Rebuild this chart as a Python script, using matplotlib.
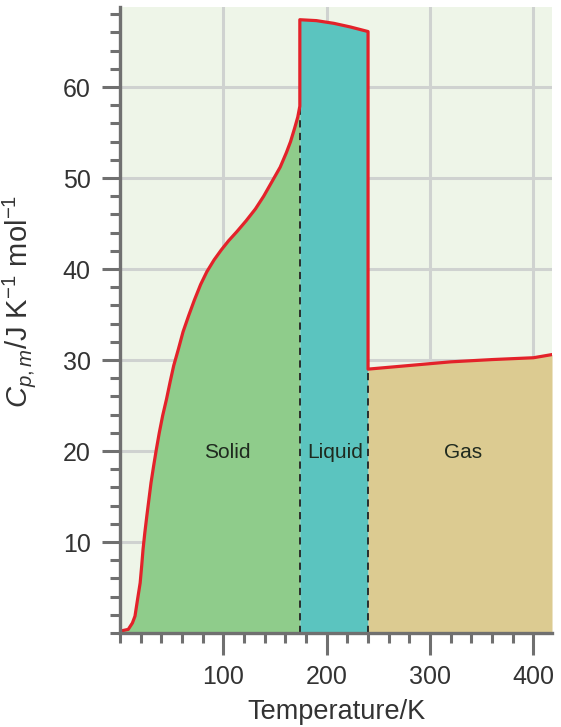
import matplotlib
matplotlib.use("Agg")
import matplotlib.pyplot as plt
from matplotlib.ticker import MultipleLocator, FixedLocator

plt.rcParams['font.family'] = ['Liberation Sans', 'DejaVu Sans']
plt.rcParams['mathtext.fontset'] = 'custom'
plt.rcParams['mathtext.rm'] = 'Liberation Sans'
plt.rcParams['mathtext.it'] = 'Liberation Sans:italic'

# heat capacity, T in K, Cp in J/K/mol
solid_T = [0, 8, 12, 14.5, 17, 19.5, 21, 22.3, 24, 26, 28, 30, 32.6, 35.2, 38, 41.3, 45, 48.5,
           52, 56.5, 61, 66.5, 72, 78, 84, 91, 98, 105, 113, 122, 131, 139, 147, 155, 161, 165,
           169, 172, 174]
solid_Cp = [0.2, 0.4, 1.1, 1.85, 3.7, 5.5, 7.4, 9.2, 11.0, 12.9, 14.7, 16.5, 18.4, 20.2, 22.0,
            23.9, 25.7, 27.6, 29.4, 31.2, 33.1, 34.9, 36.6, 38.3, 39.7, 41.0, 42.1, 43.1, 44.1,
            45.3, 46.6, 48.0, 49.6, 51.2, 52.8, 54.0, 55.5, 56.7, 57.9]
liquid_T = [174, 190, 207, 223, 240]
liquid_Cp = [67.4, 67.3, 67.0, 66.6, 66.1]
gas_T = [240, 280, 320, 360, 400, 418]
gas_Cp = [29.0, 29.4, 29.8, 30.05, 30.25, 30.6]
phase_names = ['Solid', 'Liquid', 'Gas']
phase_label_T = [104, 208, 332]
T_ticks = [100, 200, 300, 400]
Cp_ticks = [10, 20, 30, 40, 50, 60]

fig = plt.figure(figsize=(5.61, 7.27), dpi=100)
ax = fig.add_axes([0.2139, 0.1293, 0.7701, 0.8611])
ax.set_facecolor('#eef5e8')

ax.fill_between(solid_T, solid_Cp, 0, color='#8fcc8b', lw=0, zorder=2)
ax.fill_between(liquid_T, liquid_Cp, 0, color='#5bc4bf', lw=0, zorder=2)
ax.fill_between(gas_T, gas_Cp, 0, color='#dccb91', lw=0, zorder=2)

# phase boundaries
ax.plot([solid_T[-1]] * 2, [0, solid_Cp[-1]], color='#222222', ls=(0, (4, 3)), lw=1.3, zorder=3)
ax.plot([gas_T[0]] * 2, [0, gas_Cp[0]], color='#222222', ls=(0, (4, 3)), lw=1.3, zorder=3)

curve_T = solid_T + liquid_T + gas_T
curve_Cp = solid_Cp + liquid_Cp + gas_Cp
ax.plot(curve_T, curve_Cp, color='#e3222a', lw=2.3, zorder=4, solid_joinstyle='round')

for name, t in zip(phase_names, phase_label_T):
    ax.text(t, 19.8, name, ha='center', va='center', fontsize=15, color='#1f2a1f', zorder=5)

ax.set_xlim(0, 418)
ax.set_ylim(0, 68.8)
ax.xaxis.set_major_locator(FixedLocator(T_ticks))
ax.yaxis.set_major_locator(FixedLocator(Cp_ticks))
ax.xaxis.set_minor_locator(MultipleLocator(20))
ax.yaxis.set_minor_locator(MultipleLocator(2))

ax.grid(True, which='major', color='#cfd2d0', lw=2.2)
ax.set_axisbelow(True)
for s in ['top', 'right']:
    ax.spines[s].set_visible(False)
for s in ['left', 'bottom']:
    ax.spines[s].set_color('#707070')
    ax.spines[s].set_linewidth(2.4)
    ax.spines[s].set_zorder(6)

ax.tick_params(which='both', color='#707070', width=2.2, direction='out')
ax.tick_params(axis='x', which='major', length=16, labelsize=18, labelcolor='#333333', pad=7)
ax.tick_params(axis='y', which='major', length=13, labelsize=18, labelcolor='#333333', pad=8)
ax.tick_params(which='minor', length=7.5)

ax.set_xlabel('Temperature/K', fontsize=19.5, color='#333333')
ax.xaxis.set_label_coords(0.5, -0.105)
ax.set_ylabel('$C_{p,m}$/J K$^{-1}$ mol$^{-1}$', fontsize=21, color='#333333')
ax.yaxis.set_label_coords(-0.19, 0.53)

fig.savefig('out.png', dpi=100)
